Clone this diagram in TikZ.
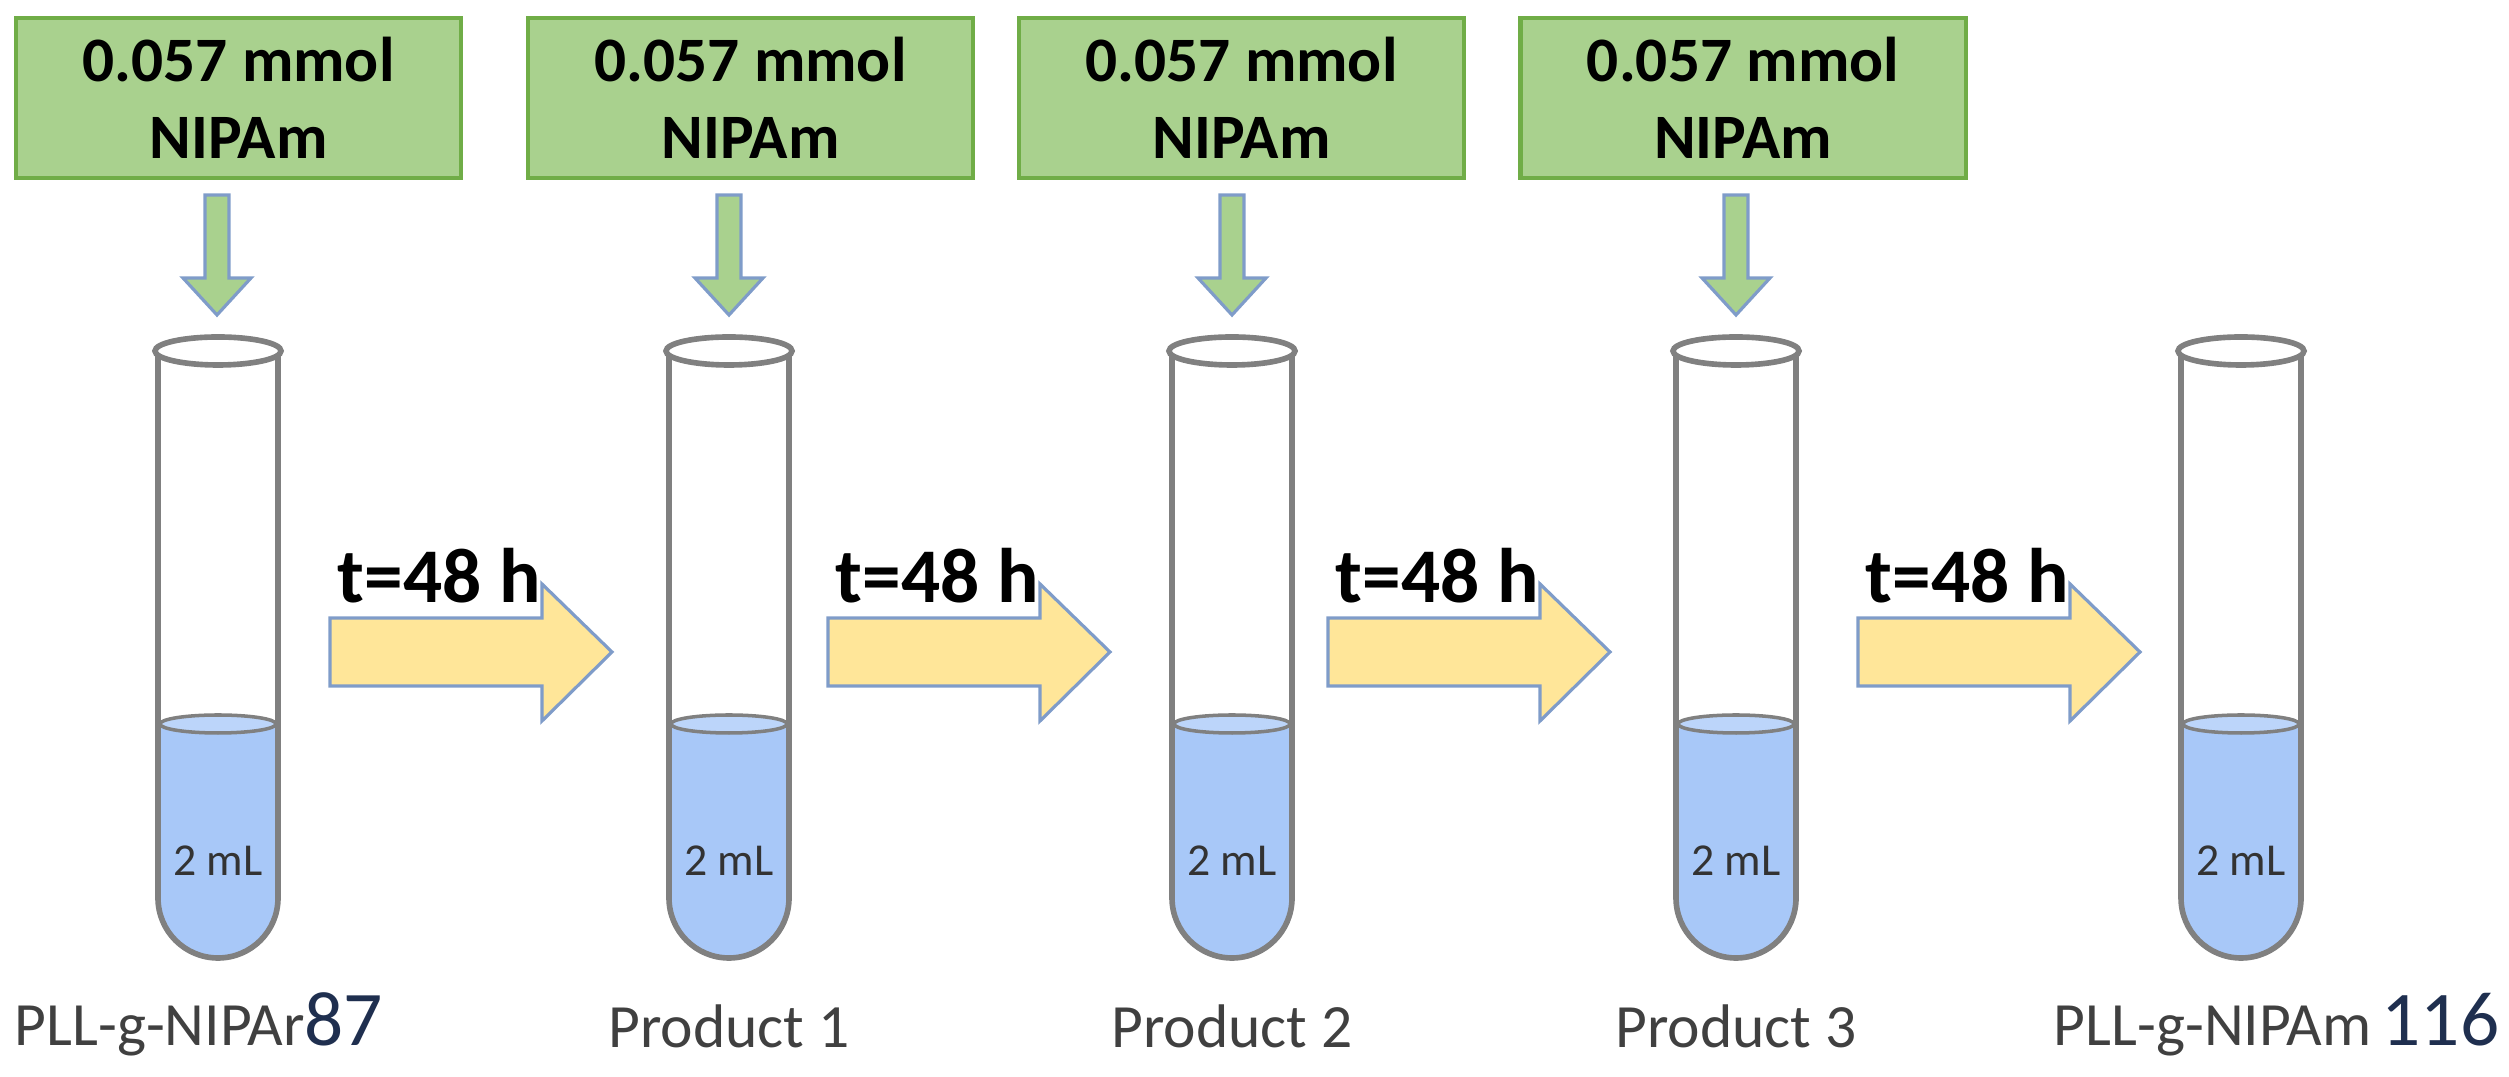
\documentclass[tikz,border=0pt]{standalone}
\usepackage{fontspec}
\setmainfont{Carlito}
\definecolor{boxg}{HTML}{A9D18E}
\definecolor{boxgb}{HTML}{70AD47}
\definecolor{arrb}{HTML}{7F9CC9}
\definecolor{yel}{HTML}{FFE699}
\definecolor{liq}{HTML}{A8C8F8}
\definecolor{liqs}{HTML}{BCD5FA}
\definecolor{tubeg}{HTML}{808080}
\definecolor{lab}{HTML}{404040}
\definecolor{num}{HTML}{1F2F4F}
\tikzset{
  greenbox/.style={draw=boxgb,fill=boxg,line width=1.2pt,minimum width=4.45cm,minimum height=1.6cm,align=center,inner sep=0pt,font=\fontsize{18}{21}\selectfont\bfseries},
  garrow/.style={draw=arrb,fill=boxg,line width=0.9pt},
  yarrow/.style={draw=arrb,fill=yel,line width=0.9pt},
  tubeline/.style={draw=tubeg,line width=1.6pt},
  lbl/.style={font=\fontsize{17.5}{20}\selectfont,text=lab,inner sep=0pt},
  tlbl/.style={font=\fontsize{22}{26}\selectfont\bfseries,inner sep=0pt,anchor=base west},
}
\begin{document}
\begin{tikzpicture}[x=0.01cm,y=-0.01cm]
\useasboundingbox (0,0) rectangle (2509,1077);
% boxes
\foreach \l/\r/\n in {17/460/1,528/973/2,1019/1464/3,1520/1966/4}{
  \node[greenbox] (b\n) at ({(\l+\r)/2},98) {0.057 mmol\\[1pt]NIPAm};
}
% green arrows
\foreach \c/\n in {217/1,729/2,1232/3,1736/4}{
  \draw[garrow] (\c-12,195) -- (\c+12,195) -- (\c+12,278) -- (\c+34,278) -- (\c,315) -- (\c-34,278) -- (\c-12,278) -- cycle;
}
% tubes
\foreach \c/\n in {218/1,729/2,1232/3,1736/4,2241/5}{
  \fill[liq] (\c-59,724) -- (\c-59,898) arc[start angle=180,end angle=360,x radius=59,y radius=-59] -- (\c+59,724) -- cycle;
  \draw[tubeg,line width=1pt,fill=liqs] (\c,724) ellipse[x radius=58,y radius=9];
  \draw[tubeline] (\c-60,351) -- (\c-60,898) arc[start angle=180,end angle=360,x radius=60,y radius=-60] -- (\c+60,351);
  \draw[tubeline,fill=white] (\c,351) ellipse[x radius=63,y radius=14];
  \node[font=\fontsize{13}{15}\selectfont,text=black!80,inner sep=0pt] (v\n) at (\c,861) {2 mL};
}
% yellow arrows
\foreach \a/\n in {330/1,828/2,1328/3,1858/4}{
  \draw[yarrow] (\a,618) -- (\a+212,618) -- (\a+212,584) -- (\a+282,652) -- (\a+212,721) -- (\a+212,686) -- (\a,686) -- cycle;
  \node[tlbl] (t\n) at (\a+7,603) {t=48 h};
}
% labels
\node[lbl,anchor=base west] (l1) at (14,1046) {PLL-g-NIPAr{\fontsize{22}{24}\selectfont\color{num}87}};
\node[lbl] (l2) at (729,1026) {Product 1};
\node[lbl] (l3) at (1232,1026) {Product 2};
\node[lbl] (l4) at (1736,1026) {Product 3};
\node[lbl,anchor=base east] (l5) at (2500,1046) {PLL-g-NIPAm\,{\fontsize{22}{24}\selectfont\color{num}116}};
\end{tikzpicture}
\end{document}
